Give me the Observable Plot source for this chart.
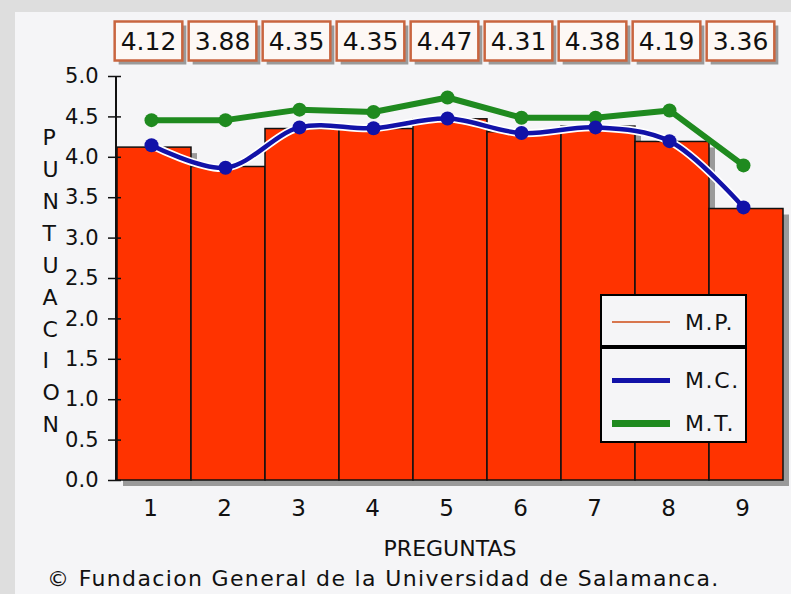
<!DOCTYPE html>
<html>
<head>
<meta charset="utf-8">
<script src="https://cdn.jsdelivr.net/npm/d3@7"></script>
<script src="https://cdn.jsdelivr.net/npm/@observablehq/plot@0.6"></script>
<style>
  html, body { margin: 0; padding: 0; }
  body { width: 791px; height: 594px; background: #dedede; position: relative; overflow: hidden; font-family: "DejaVu Sans", sans-serif; }
  #panel { position: absolute; left: 15px; top: 12px; right: 0; bottom: 0; background: #f5f5f7; }
  #chart { position: absolute; left: 0; top: 0; }
  #caption { position: absolute; left: 47px; top: 566px; font-size: 22px; letter-spacing: 1.35px; color: #111; white-space: nowrap; }
  #legend { position: absolute; left: 600px; top: 294px; width: 143px; height: 145px; border: 2px solid #000; background: #f5f5f7; box-sizing: content-box; }
  #legend .row { position: absolute; left: 0; width: 143px; height: 40px; }
  #legend .sw { position: absolute; left: 10px; width: 58px; top: 50%; }
  #legend .lb { position: absolute; left: 83px; top: 50%; transform: translateY(-50%); font-size: 22px; letter-spacing: 1.6px; color: #111; }
  #legend .div { position: absolute; left: 0; width: 143px; top: 49px; height: 4px; background: #000; }
</style>
</head>
<body>
<div id="panel"></div>
<div id="chart"></div>
<div id="legend"></div>
<div id="caption">© Fundacion General de la Universidad de Salamanca.</div>
<script>
// ---- data ----
const preguntas = [1, 2, 3, 4, 5, 6, 7, 8, 9];
const mpValues = [4.12, 3.88, 4.35, 4.35, 4.47, 4.31, 4.38, 4.19, 3.36];
const mcValues = [4.15, 3.87, 4.37, 4.36, 4.48, 4.30, 4.37, 4.20, 3.38];
const mtValues = [4.46, 4.46, 4.59, 4.56, 4.74, 4.49, 4.49, 4.58, 3.90];
const mpLabels = ["4.12", "3.88", "4.35", "4.35", "4.47", "4.31", "4.38", "4.19", "3.36"];
const yTicks = [0, 0.5, 1, 1.5, 2, 2.5, 3, 3.5, 4, 4.5, 5];
const yTitle = "PUNTUACION";
const xTitle = "PREGUNTAS";
const legendItems = ["M.P.", "M.C.", "M.T."];

const rows = preguntas.map((p, i) => ({p, mp: mpValues[i], mc: mcValues[i], mt: mtValues[i], label: mpLabels[i]}));

const BAR = "#ff3300", BLUE = "#1212a8", GREEN = "#1f8a1f", MPLINE = "#d8764e";

const chart = Plot.plot({
  width: 791,
  height: 562,
  marginLeft: 116,
  marginRight: 8,
  marginTop: 76,
  marginBottom: 82,
  style: {background: "transparent", fontFamily: "DejaVu Sans, sans-serif", color: "#111"},
  x: {type: "band", domain: preguntas, padding: 0},
  y: {domain: [0, 5]},
  marks: [
    // bar shadows
    Plot.barY(rows, {x: "p", y: "mp", fill: "#9a9a9a", dx: 6, dy: 6}),
    Plot.barY(rows, {x: "p", y: "mp", fill: BAR, stroke: "#111", strokeWidth: 1.5}),
    // M.T.
    Plot.line(rows, {x: "p", y: "mt", stroke: GREEN, strokeWidth: 6, dx: -3}),
    Plot.dot(rows, {x: "p", y: "mt", r: 7, fill: GREEN, dx: -3}),
    // M.C.
    Plot.line(rows, {x: "p", y: "mc", stroke: "#fff", strokeWidth: 8, curve: "catmull-rom", dx: -3}),
    Plot.line(rows, {x: "p", y: "mc", stroke: BLUE, strokeWidth: 4.5, curve: "catmull-rom", dx: -3}),
    Plot.dot(rows, {x: "p", y: "mc", r: 7, fill: BLUE, dx: -3}),
    // value labels
    Plot.text(rows, {x: "p", text: "label", frameAnchor: "top", lineAnchor: "middle", dy: -35, dx: -6, fontSize: 25, fill: "#111"}),
    // axes
    Plot.axisY({ticks: yTicks, tickFormat: d3.format(".1f"), tickSize: 13, tickPadding: 10, dx: 5, fontSize: 21, label: null, stroke: "#111", strokeWidth: 1.5}),
    Plot.axisX({tickSize: 0, tickPadding: 19, fontSize: 23, dx: -4, label: null}),
    Plot.text([xTitle], {frameAnchor: "bottom", lineAnchor: "middle", dy: 68, text: d => d, fontSize: 22, fill: "#111"}),
    Plot.text([yTitle.split("").join("\n")], {frameAnchor: "left", dx: -74, text: d => d, fontSize: 22, lineHeight: 1.45, fill: "#111"})
  ]
});
document.getElementById("chart").appendChild(chart);

// y-axis line from 0 to 5
(function () {
  const svg = d3.select(chart);
  const y = chart.scale("y");
  svg.append("line")
    .attr("x1", 116).attr("x2", 116)
    .attr("y1", y.apply(0)).attr("y2", y.apply(5))
    .attr("stroke", "#111").attr("stroke-width", 2);
})();

// boxes behind the value labels
(function () {
  const set = new Set(mpLabels);
  const ns = "http://www.w3.org/2000/svg";
  chart.querySelectorAll("text").forEach(t => {
    if (!set.has(t.textContent) || t.children.length > 1) return;
    const b = t.getBBox();
    const w = b.width + 12, h = 39;
    const cx = b.x + b.width / 2, cy = b.y + b.height / 2;
    const tr = t.getAttribute("transform") || "";
    const sh = document.createElementNS(ns, "rect");
    sh.setAttribute("x", cx - w / 2 + 4); sh.setAttribute("y", cy - h / 2 + 4);
    sh.setAttribute("width", w); sh.setAttribute("height", h);
    sh.setAttribute("fill", "#9a9a9a"); sh.setAttribute("transform", tr);
    const bx = document.createElementNS(ns, "rect");
    bx.setAttribute("x", cx - w / 2); bx.setAttribute("y", cy - h / 2);
    bx.setAttribute("width", w); bx.setAttribute("height", h);
    bx.setAttribute("fill", "#fdf8f5"); bx.setAttribute("stroke", "#c9653f"); bx.setAttribute("stroke-width", 2.5);
    bx.setAttribute("transform", tr);
    t.parentNode.insertBefore(sh, t);
    t.parentNode.insertBefore(bx, t);
  });
})();

// legend
(function () {
  const lg = document.getElementById("legend");
  const styles = [
    {color: MPLINE, w: 2, top: 0},
    {color: BLUE, w: 5, top: 58},
    {color: GREEN, w: 7, top: 101}
  ];
  legendItems.forEach((name, i) => {
    const s = styles[i];
    const row = document.createElement("div");
    row.className = "row";
    row.style.top = (s.top + 6) + "px";
    const sw = document.createElement("div");
    sw.className = "sw";
    sw.style.height = s.w + "px";
    sw.style.marginTop = (-s.w / 2) + "px";
    sw.style.background = s.color;
    const lb = document.createElement("div");
    lb.className = "lb";
    lb.textContent = name;
    row.appendChild(sw); row.appendChild(lb);
    lg.appendChild(row);
  });
  const dv = document.createElement("div");
  dv.className = "div";
  lg.appendChild(dv);
})();
</script>
</body>
</html>
